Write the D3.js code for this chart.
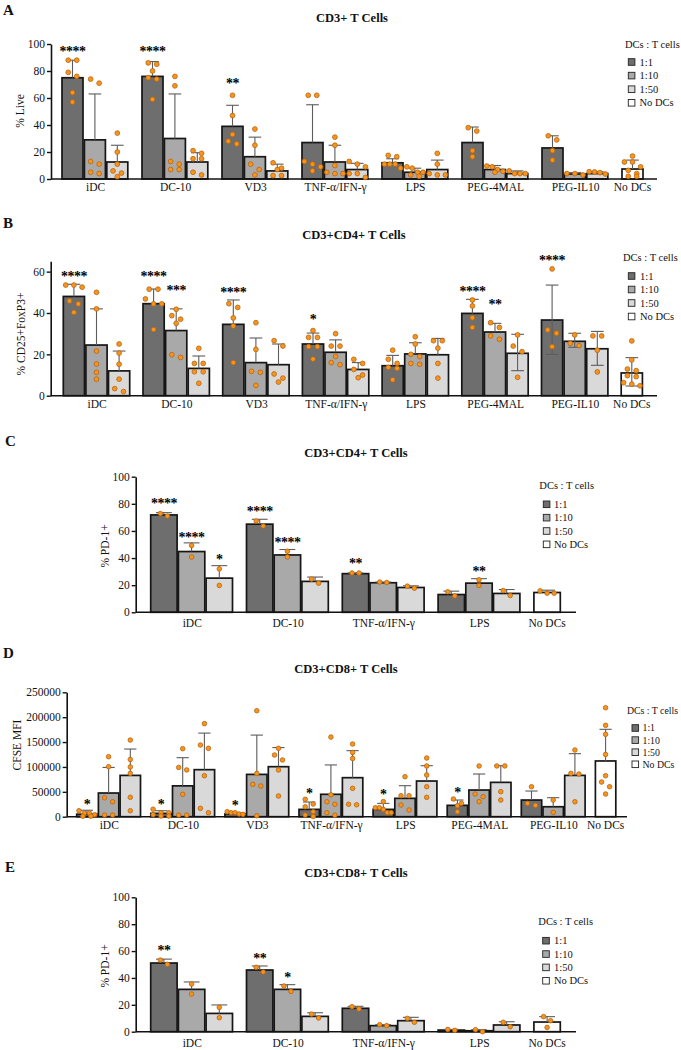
<!DOCTYPE html>
<html>
<head>
<meta charset="utf-8">
<script src="https://cdn.jsdelivr.net/npm/d3@7"></script>
<style>
  body { margin: 0; background: #fff; }
  svg text { font-family: "Liberation Serif", "Times New Roman", serif; fill: #111; }
</style>
</head>
<body>
<svg id="fig" width="681" height="1050"></svg>
<script>
// ---- shared categories ----
var ratios = ["1:1", "1:10", "1:50"];
var legendKeys = ["1:1", "1:10", "1:50", "No DCs"];
var groups8 = ["iDC", "DC-10", "VD3", "TNF-α/IFN-γ", "LPS", "PEG-4MAL", "PEG-IL10", "No DCs"];
var groups5 = ["iDC", "DC-10", "TNF-α/IFN-γ", "LPS", "No DCs"];

// ---- A: CD3+ T cells, % live ----
var meanA = [[75, 29, 12.6], [76, 30, 12.6], [39, 16.5, 6], [27, 12.6, 7], [12, 5, 7], [27, 7, 4], [23, 3.7, 4], [7.4]];
var errA = [[88, 63, 25], [87, 63, 19.5], [54.6, 31, 11], [55, 25, 11.6], [15, 8, 14], [38.5, 10, 6], [32, 4.7, 5.4], [14]];
var dotsA = [
  [[88, 88, 79, 76, 64, 57], [74, 71, 13, 11, 5, 4], [34, 20, 11, 6, 4.4, 1.7]],
  [[86, 85, 80, 75, 74, 59], [76, 69, 13, 11, 7, 7], [21, 19, 15, 15, 5, 3]],
  [[62, 47, 33, 28, 26], [37, 25, 11, 7, 3], [12, 8, 7, 2.5, 2.5]],
  [[62, 62, 13, 11, 9, 6], [31, 25, 10, 5, 4, 4], [13, 11, 9, 4, 4, 1.2]],
  [[17.5, 16.5, 11, 11, 11, 8], [9, 8, 5, 5, 3, 2], [19, 11, 4, 3, 3]],
  [[38, 35.5, 21, 16.5], [9.6, 9, 7, 5.7, 5], [6, 4, 4, 4]],
  [[32, 29, 21, 14], [4, 4, 3], [5.4, 5.2, 4.7, 3.7]],
  [[17, 12.6, 12.6, 9, 6.4, 4, 2, 2]]
];
var starsA = [["****"], ["****"], ["**"], [], [], [], [], []];
var starAtA = [[96.3], [96.3], [72.8], [], [], [], [], []];

// ---- B: CD3+CD4+ T cells, % CD25+FoxP3+ ----
var meanB = [[48, 24.5, 12], [44.5, 31.5, 13.2], [34.5, 16, 15], [25, 21, 12.7], [14.5, 20.2, 19.8], [39.8, 30.8, 20.5], [36.6, 26.3, 22.7], [11]];
var errB = [[53.9, 42, 21.6], [51.6, 42, 19.2], [46.3, 27.9, 25], [30.3, 27, 16], [19.5, 25.6, 27.7], [46.6, 35, 29.7], [53.5, 30.2, 31.1], [18.4]];
var lowB = [[null, null, null], [null, null, null], [null, null, null], [null, null, null], [null, null, null], [null, null, 12.1], [20, 23.4, 14.7], [4.7]];
var dotsB = [
  [[53.5, 53.5, 52.5, 45.8, 44.4, 40.3], [50, 42, 21.6, 15.3, 11.3, 8], [25, 20.6, 15.2, 8, 3.4, 2]],
  [[51.5, 51.5, 46.8, 44.4, 44.4, 32], [41.8, 38.7, 37, 35, 19.8, 18.5], [22.9, 15.6, 15.6, 11.6, 11.6, 6]],
  [[44.5, 42.7, 37.6, 33.7, 16], [35.3, 22.4, 11.8, 11.3, 5], [26.6, 24, 10.5, 8.5, 6.6]],
  [[31.5, 28.2, 28.2, 23.7, 23.7, 17.7], [30, 24, 24, 19, 16, 15], [17.6, 15.6, 12.7, 10, 8.7]],
  [[22, 17.6, 15.6, 13.7, 13.2, 7.7], [28.5, 25, 20, 18.9, 15.6, 15.2], [26.6, 26.6, 23, 15.6, 8.5]],
  [[46.3, 43.4, 37.7, 33], [35.3, 33, 28.9, 27.3], [29.4, 24, 21.3, 8.9]],
  [[61.3, 31.8, 30.2, 23.7], [29.4, 25.3, 24.2], [28.9, 28.9, 22, 11.5]],
  [[26.5, 17.3, 12.9, 12.1, 9.7, 9.2, 6.3, 5.6, 4.8]]
];
var starsB = [["****"], ["****", "***"], ["****"], ["*"], [], ["****", "**"], ["****"], []];
var starAtB = [[58.9], [58.9, 52], [51.1], [38.2], [], [51.8, 45.2], [66.5], []];

// ---- C: CD3+CD4+ T cells, % PD-1+ ----
var meanC = [[71.8, 44.8, 25.2], [65, 42.3, 22.8], [28.5, 21.8, 18.3], [13.1, 21.5, 13.9], [14.6]];
var errC = [[73.5, 51.2, 34.4], [68.6, 46.3, 26], [29, 22.3, 19.5], [15.6, 24.8, 16.8], [16.3]];
var dotsC = [
  [[72.8, 71], [49.3, 40.8], [32, 19.8]],
  [[67.3, 63.6], [45, 40.8], [24.5, 21.5]],
  [[29, 29], [22.3, 22], [19.3, 17.8]],
  [[15.1, 12.1], [24, 19.8], [16, 12.4]],
  [[15.8, 14.1, 14.1]]
];
var starsC = [["****", "****", "*"], ["****", "****"], ["**"], ["", "**"], []];
var starAtC = [[82, 57, 41], [76.5, 53.2], [37.6], [null, 31.7], []];

// ---- D: CD3+CD8+ T cells, CFSE MFI ----
var meanD = [[5000, 47600, 83000], [6700, 62000, 94500], [5400, 85000, 100500], [14700, 45000, 78400], [14700, 36900, 71700], [22800, 53600, 69000], [33500, 20000, 83000], [112000]];
var errD = [[13000, 99000, 136000], [12000, 118600, 168000], [8000, 164000, 139000], [29500, 104000, 132700], [26800, 62300, 102500], [33500, 85800, 102500], [51600, 38200, 126700], [175600]];
var dotsD = [
  [[12000, 7000, 7000, 4000, 1000, 1000], [120600, 100500, 38000, 30000, 3300, 3300], [154000, 115000, 100000, 87000, 39000, 12000]],
  [[15000, 8000, 8000, 4000, 1300, 1300], [136700, 99000, 94000, 45000, 3300, 3300], [187000, 144000, 137400, 82400, 16800, 8000]],
  [[10000, 8000, 8000, 5400, 4700], [213000, 87000, 65000, 61700, 2000], [137400, 124000, 114000, 94000, 41500]],
  [[34900, 25500, 20000, 10000, 3300, 500], [160000, 44000, 30000, 25000, 8000, 3000], [146000, 129000, 117000, 57000, 25000, 24000]],
  [[30200, 18000, 18000, 14700, 8000, 8000], [80400, 42200, 42200, 23500, 13400], [118000, 102000, 83800, 60300, 38900]],
  [[35500, 26800, 22000, 10000], [101900, 45600, 40200, 30200], [102000, 102000, 50300, 33500]],
  [[60300, 26800, 22800], [33500, 8700], [134000, 87000, 85800, 30000]],
  [[219000, 183600, 165500, 125000, 82400, 69700, 60300, 45600]]
];
var starsD = [["*"], ["*"], ["*"], ["*"], ["*"], ["*"], [], []];
var starAtD = [[30000], [30000], [28000], [52000], [49000], [53600], [], []];

// ---- E: CD3+CD8+ T cells, % PD-1+ ----
var meanE = [[51.1, 31.5, 13.6], [45.9, 31.5, 11.4], [17.4, 4.5, 8.2], [1.2, 0.7, 5], [7.2]];
var errE = [[54, 37, 19.9], [48.9, 35, 14.1], [18.9, 5.2, 10.7], [1.7, 1.5, 7.4], [11.2]];
var dotsE = [
  [[53.3, 50.1], [35.5, 28], [18.1, 10.4]],
  [[47.9, 44.4], [34, 30], [13.1, 10.2]],
  [[18.6, 16.9], [5.2, 4.5], [9.9, 7]],
  [[1.7, 1], [1.5, 0], [7, 3.7]],
  [[11.2, 8.2, 3.2]]
];
var starsE = [["**"], ["**", "*"], [], [], []];
var starAtE = [[62], [56, 42], [], [], []];

// ---- styles ----
var fillOf = { "1:1": "#6e6e6e", "1:10": "#a9a9a9", "1:50": "#d9d9d9", "No DCs": "#ffffff" };
var svg = d3.select("#fig");

function drawPanel(p) {
  var g = svg.append("g");
  var y = d3.scaleLinear().domain([0, p.yMax]).range([p.y0, p.yTop]);
  var x0 = d3.scaleBand().domain(p.groups).range([p.first, p.first + p.step * p.groups.length]);
  var x1 = d3.scaleBand().domain(ratios).range([0, p.slot * 3]);

  // panel letter + title
  g.append("text").attr("x", p.letterX).attr("y", p.letterY)
    .style("font-size", "15px").style("font-weight", "bold").text(p.letter);
  g.append("text").attr("x", p.titleX).attr("y", p.titleY).attr("text-anchor", "middle")
    .style("font-size", "12.5px").style("font-weight", "bold").text(p.title);

  // flatten bars
  var bars = [];
  p.groups.forEach(function(grp, gi) {
    p.mean[gi].forEach(function(m, si) {
      bars.push({
        key: grp === "No DCs" ? "No DCs" : ratios[si],
        x: x0(grp) + x1(ratios[si]),
        mean: m,
        err: p.err[gi][si],
        low: p.low ? p.low[gi][si] : null,
        dots: p.dots[gi][si],
        star: p.stars[gi][si] || "",
        starAt: p.starAt[gi][si]
      });
    });
  });

  // bars
  g.append("g").selectAll("rect").data(bars).enter().append("rect")
    .attr("x", d => d.x)
    .attr("y", d => y(d.mean))
    .attr("width", p.barW)
    .attr("height", d => y(0) - y(d.mean))
    .attr("fill", d => fillOf[d.key])
    .attr("stroke", "#161616")
    .attr("stroke-width", 1.7);

  // error bars
  var eg = g.append("g").attr("stroke", "#5c5c5c").attr("stroke-width", 1.1);
  bars.forEach(function(d) {
    var cx = d.x + p.barW / 2, cap = p.barW * 0.3;
    var lo = d.low != null ? d.low : d.mean;
    eg.append("line").attr("x1", cx).attr("x2", cx).attr("y1", y(lo)).attr("y2", y(d.err));
    eg.append("line").attr("x1", cx - cap).attr("x2", cx + cap).attr("y1", y(d.err)).attr("y2", y(d.err));
    if (d.low != null)
      eg.append("line").attr("x1", cx - cap).attr("x2", cx + cap).attr("y1", y(d.low)).attr("y2", y(d.low));
  });

  // axes
  g.append("line").attr("x1", p.axisX).attr("x2", p.xEnd).attr("y1", y(0)).attr("y2", y(0))
    .attr("stroke", "#111").attr("stroke-width", 1.6);
  var yAxis = g.append("g").attr("transform", "translate(" + p.axisX + ",0)")
    .call(d3.axisLeft(y).tickValues(p.ticks).tickSize(4).tickSizeOuter(0).tickPadding(2).tickFormat(d3.format("d")));
  yAxis.select(".domain").attr("stroke", "#111").attr("stroke-width", 1.6);
  yAxis.selectAll(".tick line").attr("stroke", "#111").attr("stroke-width", 1.4);
  yAxis.selectAll(".tick text").style("font-size", "11.5px").style("font-family", "Liberation Serif, serif").attr("fill", "#111");

  // y label
  g.append("text").attr("transform", "translate(" + p.yLabelX + "," + p.yLabelY + ") rotate(-90)")
    .attr("text-anchor", "middle").attr("dy", "0.35em").style("font-size", "11.5px").text(p.yLabel);

  // x labels
  g.append("g").selectAll("text").data(p.groups).enter().append("text")
    .attr("x", d => d === "No DCs" ? x0(d) + p.barW / 2 : x0(d) + 1.5 * p.slot)
    .attr("y", y(0) + p.labelDy)
    .attr("dy", "0.35em")
    .attr("text-anchor", "middle")
    .style("font-size", "11.5px")
    .text(d => d);

  // dots (row-based scatter like Prism)
  var r = p.r, dg = g.append("g");
  bars.forEach(function(d) {
    var cx = d.x + p.barW / 2;
    var vals = d.dots.slice().sort((a, b) => b - a);
    var rows = [];
    vals.forEach(function(v) {
      var last = rows[rows.length - 1];
      if (last && Math.abs(y(last[0]) - y(v)) < 2 * r + 0.8) last.push(v);
      else rows.push([v]);
    });
    rows.forEach(function(row) {
      var n = row.length;
      var sp = n > 1 ? Math.min(p.dotSp, (p.barW - 2 * r) / (n - 1)) : 0;
      row.forEach(function(v, i) {
        dg.append("circle")
          .attr("cx", cx + (i - (n - 1) / 2) * sp)
          .attr("cy", y(v))
          .attr("r", r)
          .attr("fill", "#f7941d")
          .attr("stroke", "#b8650f")
          .attr("stroke-width", 0.8);
      });
    });
  });

  // significance stars
  g.append("g").selectAll("text").data(bars.filter(d => d.star)).enter().append("text")
    .attr("x", d => d.x + p.barW / 2)
    .attr("y", d => y(d.starAt) + 7)
    .attr("text-anchor", "middle")
    .style("font-size", "14px")
    .style("font-weight", "bold")
    .style("fill", "#000")
    .style("letter-spacing", "-0.5px")
    .text(d => d.star);

  // legend
  var lg = g.append("g");
  lg.append("text").attr("x", p.legX).attr("y", p.legTitleY).attr("dy", "0.35em")
    .style("font-size", p.legFont + "px").text("DCs : T cells");
  legendKeys.forEach(function(k, i) {
    var cy = p.legY0 + i * p.legStep;
    lg.append("rect").attr("x", p.legSqX).attr("y", cy - 3.3).attr("width", 6.6).attr("height", 6.6)
      .attr("fill", fillOf[k]).attr("stroke", "#222").attr("stroke-width", 0.9);
    lg.append("text").attr("x", p.legTextX).attr("y", cy).attr("dy", "0.35em")
      .style("font-size", p.legFont + "px").text(k);
  });
}

drawPanel({
  letter: "A", letterX: 3, letterY: 15, title: "CD3+ T Cells", titleX: 352, titleY: 22,
  groups: groups8, mean: meanA, err: errA, dots: dotsA, stars: starsA, starAt: starAtA,
  yMax: 100, ticks: [0, 20, 40, 60, 80, 100], y0: 179, yTop: 44, axisX: 51, xEnd: 657,
  first: 62, step: 80, slot: 22.4, barW: 21, labelDy: 8, r: 2.4, dotSp: 8.5,
  yLabel: "% Live", yLabelX: 20, yLabelY: 111,
  legX: 625, legTitleY: 44, legSqX: 628.3, legTextX: 639.5, legY0: 62, legStep: 13.6, legFont: 10.5
});

drawPanel({
  letter: "B", letterX: 3, letterY: 228, title: "CD3+CD4+ T Cells", titleX: 354, titleY: 239,
  groups: groups8, mean: meanB, err: errB, low: lowB, dots: dotsB, stars: starsB, starAt: starAtB,
  yMax: 65, ticks: [0, 20, 40, 60], y0: 395.7, yTop: 261.3, axisX: 50.7, xEnd: 657,
  first: 63.3, step: 79.7, slot: 22.6, barW: 21.2, labelDy: 8.5, r: 2.4, dotSp: 8.8,
  yLabel: "% CD25+FoxP3+", yLabelX: 21, yLabelY: 334,
  legX: 623, legTitleY: 257, legSqX: 628.3, legTextX: 640, legY0: 276, legStep: 13.5, legFont: 10.5
});

drawPanel({
  letter: "C", letterX: 5, letterY: 446, title: "CD3+CD4+ T Cells", titleX: 356, titleY: 456.5,
  groups: groups5, mean: meanC, err: errC, dots: dotsC, stars: starsC, starAt: starAtC,
  yMax: 100, ticks: [0, 20, 40, 60, 80, 100], y0: 612.3, yTop: 476.7, axisX: 135.7, xEnd: 576,
  first: 150.7, step: 95.8, slot: 27.7, barW: 26.4, labelDy: 10.5, r: 2.3, dotSp: 7,
  yLabel: "% PD-1+", yLabelX: 105, yLabelY: 546,
  legX: 539.3, legTitleY: 485, legSqX: 543.3, legTextX: 554, legY0: 504.3, legStep: 13.35, legFont: 10.5
});

drawPanel({
  letter: "D", letterX: 3, letterY: 658, title: "CD3+CD8+ T Cells", titleX: 346, titleY: 673,
  groups: groups8, mean: meanD, err: errD, dots: dotsD, stars: starsD, starAt: starAtD,
  yMax: 250000, ticks: [0, 50000, 100000, 150000, 200000, 250000], y0: 816.7, yTop: 692.3, axisX: 66.7, xEnd: 627,
  first: 76.7, step: 74.1, slot: 21.7, barW: 20.4, labelDy: 8.5, r: 2.3, dotSp: 8,
  yLabel: "CFSE MFI", yLabelX: 17, yLabelY: 745,
  legX: 627, legTitleY: 711, legSqX: 632, legTextX: 642.5, legY0: 728, legStep: 12.1, legFont: 9.8
});

drawPanel({
  letter: "E", letterX: 5, letterY: 872, title: "CD3+CD8+ T Cells", titleX: 356, titleY: 876.5,
  groups: groups5, mean: meanE, err: errE, dots: dotsE, stars: starsE, starAt: starAtE,
  yMax: 100, ticks: [0, 20, 40, 60, 80, 100], y0: 1031.7, yTop: 897.3, axisX: 135.7, xEnd: 576,
  first: 150.7, step: 95.8, slot: 27.7, barW: 26.4, labelDy: 11, r: 2.3, dotSp: 7,
  yLabel: "% PD-1+", yLabelX: 105, yLabelY: 966,
  legX: 538.3, legTitleY: 921, legSqX: 542.7, legTextX: 554, legY0: 940.7, legStep: 13.35, legFont: 10.5
});
</script>
</body>
</html>
